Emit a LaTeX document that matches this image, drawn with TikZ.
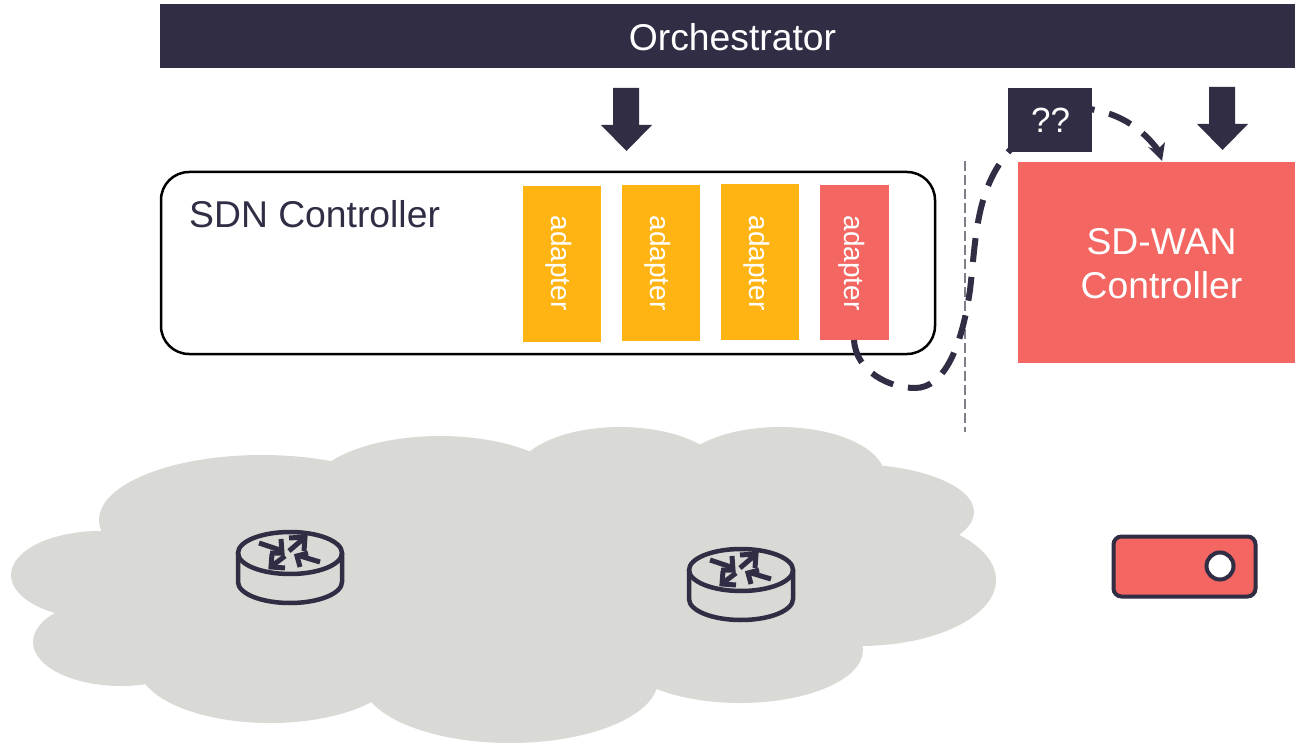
\documentclass[tikz,border=0pt]{standalone}
\usepackage{fontspec}
\setmainfont{Liberation Sans}
\definecolor{ink}{HTML}{302D44}
\definecolor{coral}{HTML}{F46661}
\definecolor{amber}{HTML}{FFB414}
\definecolor{cloudc}{HTML}{D9DAD5}
\definecolor{rule}{HTML}{7F7F8A}
\tikzset{
  adapterbox/.style={fill=#1,anchor=north west,inner sep=0pt,outer sep=0pt},
  adaptertext/.style={text=white,rotate=-90,font=\fontsize{28}{30}\selectfont,inner sep=0pt},
  blockarrow/.style={fill=ink,draw=none},
  puff/.style={fill=cloudc,draw=none},
  routerline/.style={draw=ink,line width=4.5pt},
  routerarrow/.style={draw=ink,line width=5pt},
  flow/.style={draw=ink,line width=6pt,dash pattern=on 24pt off 15pt},
}
\newcommand{\routericon}[2]{%
  \begin{scope}[shift={(#1,#2)}]
    \draw[routerline] (-52,0) -- (-52,29) arc[start angle=180,end angle=0,x radius=52,y radius=21] -- (52,0);
    \draw[routerline] (0,0) ellipse[x radius=52,y radius=21];
    \draw[routerarrow] (-31,-10) -- (-10,-3);
    \draw[routerarrow] (-9,-14) -- (-8,0) -- (-20,0);
    \draw[routerarrow] (-1,-2) -- (13,-14);
    \draw[routerarrow] (-1,-15) -- (15,-16) -- (14,-2);
    \draw[routerarrow] (-5,3) -- (-18,13);
    \draw[routerarrow] (-18,1) -- (-19,14) -- (-5,15);
    \draw[routerarrow] (30,9) -- (10,3);
    \draw[routerarrow] (18,0) -- (7,3) -- (10,14);
  \end{scope}}
\begin{document}
\begin{tikzpicture}[x=1pt,y=-1pt]
\useasboundingbox (0,0) rectangle (1295,743);
% cloud
\fill[puff] (100,575) ellipse[x radius=89,y radius=44];
\fill[puff] (262,520) ellipse[x radius=163,y radius=65];
\fill[puff] (440,495) ellipse[x radius=133,y radius=59];
\fill[puff] (620,477) ellipse[x radius=105,y radius=50];
\fill[puff] (780,477) ellipse[x radius=105,y radius=50];
\fill[puff] (850,512) ellipse[x radius=124,y radius=48];
\fill[puff] (860,580) ellipse[x radius=136,y radius=66];
\fill[puff] (740,650) ellipse[x radius=123,y radius=53];
\fill[puff] (510,680) ellipse[x radius=148,y radius=63];
\fill[puff] (270,665) ellipse[x radius=132,y radius=58];
\fill[puff] (121,642) ellipse[x radius=88,y radius=44];
\fill[puff] (150,500) rectangle (850,650);
\fill[puff] (80,560) rectangle (300,660);
% top bar
\node[fill=ink,minimum width=1135pt,minimum height=64pt,inner sep=0pt,outer sep=0pt,anchor=north west] (orch) at (160,4) {};
\node[text=white,font=\fontsize{37.3}{40}\selectfont,inner sep=0pt] (orchlabel) at (732.5,37) {Orchestrator};
% block arrows
\fill[blockarrow] (613,88) -- (639,88) -- (639,125) -- (652,125) -- (626.5,151) -- (601,125) -- (613,125) -- cycle;
\fill[blockarrow] (1209,87) -- (1235,87) -- (1235,124) -- (1248,124) -- (1222.5,150) -- (1197,124) -- (1209,124) -- cycle;
% SDN controller
\node[draw=black,line width=2.5pt,fill=white,rounded corners=28pt,minimum width=774pt,minimum height=182pt,inner sep=0pt,outer sep=0pt,anchor=north west] (sdn) at (161,172) {};
\node[text=ink,font=\fontsize{37.3}{40}\selectfont,inner sep=0pt,anchor=west] (sdnlabel) at (189,214) {SDN Controller};
\node[adapterbox=amber,minimum width=78pt,minimum height=156pt] (a1) at (523,186) {};
\node[adapterbox=amber,minimum width=78pt,minimum height=156pt] (a2) at (622,185) {};
\node[adapterbox=amber,minimum width=78pt,minimum height=156pt] (a3) at (721,184) {};
\node[adapterbox=coral,minimum width=69pt,minimum height=155pt] (a4) at (820,185) {};
\node[adaptertext] (t1) at (558.5,263) {adapter};
\node[adaptertext] (t2) at (657.5,263) {adapter};
\node[adaptertext] (t3) at (756.5,263) {adapter};
\node[adaptertext] (t4) at (851.5,263) {adapter};
% divider
\coordinate (divtop) at (965,161);
\coordinate (divbot) at (965,432);
\draw[rule,line width=1.4pt,dash pattern=on 10pt off 4pt] (divtop) -- (divbot);
% SD-WAN controller
\node[fill=coral,inner sep=0pt,outer sep=0pt,minimum width=277pt,minimum height=201pt,anchor=north west] (wan) at (1018,162) {};
\node[text=white,font=\fontsize{37.3}{44}\selectfont,align=center,inner sep=0pt] (wanlabel) at (1161.5,264) {SD-WAN\\Controller};
% dashed connector
\coordinate (flowstart) at (854,340);
\coordinate (flowend) at (1162,161);
\draw[flow] (flowstart) .. controls (856,372) and (890,388) .. (915,388)
  .. controls (945,388) and (962,345) .. (970,290)
  .. controls (976,240) and (975,190) .. (1010,150)
  .. controls (1040,110) and (1075,105) .. (1095,110)
  .. controls (1122,115) and (1143,130) .. (1158,150);
\fill[ink] (flowend) -- (1148,147) -- (1157,150) -- (1165,142) -- cycle;
% ?? box
\node[fill=ink,minimum width=84pt,minimum height=64pt,inner sep=0pt,outer sep=0pt,anchor=north west] (qbox) at (1008,88) {};
\node[text=white,font=\fontsize{35}{38}\selectfont,inner sep=0pt] (qlabel) at (1050.5,120) {??};
% routers
\routericon{290}{553}
\routericon{741}{570}
% device
\node[draw=ink,fill=coral,line width=4pt,rounded corners=8pt,minimum width=142pt,minimum height=60pt,inner sep=0pt,outer sep=0pt,anchor=north west] (dev) at (1113.5,536.5) {};
\node[draw=ink,fill=white,line width=4pt,circle,minimum size=27pt,inner sep=0pt,outer sep=0pt] (devled) at (1220,566) {};
\end{tikzpicture}
\end{document}
